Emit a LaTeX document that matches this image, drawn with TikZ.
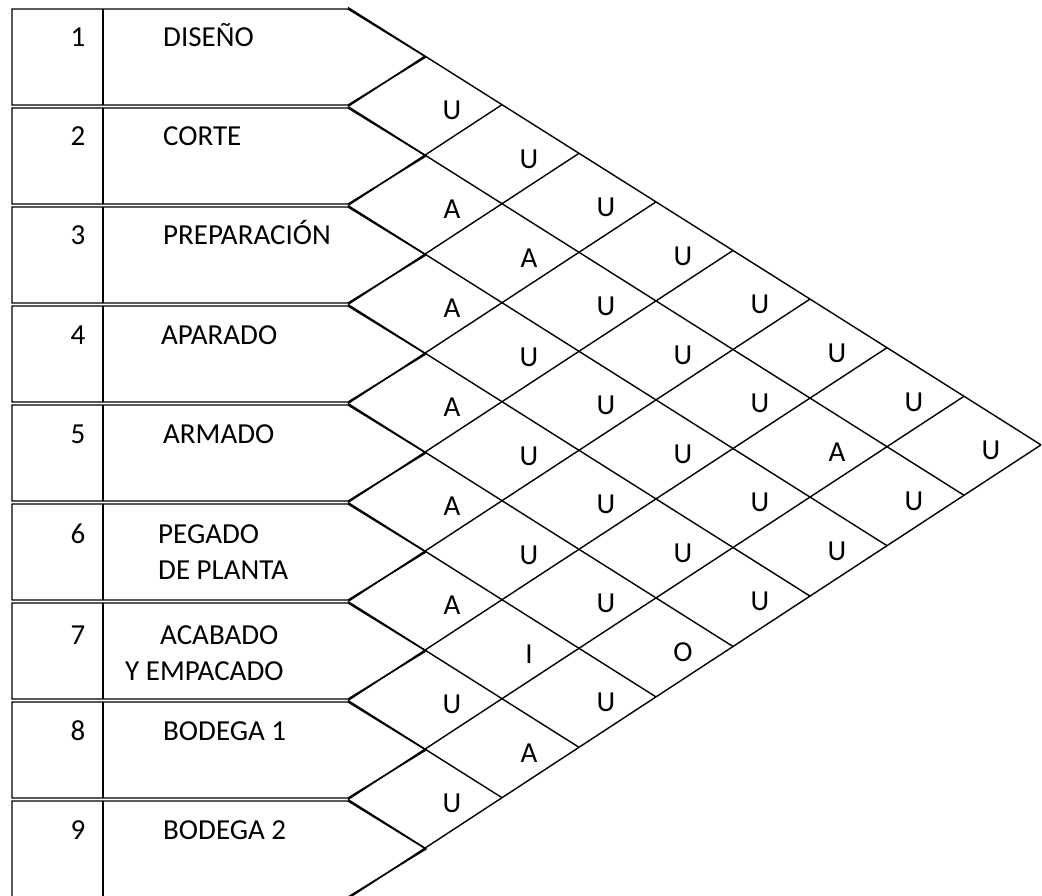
\documentclass[tikz,border=0pt]{standalone}
\usepackage{fontspec}
\setmainfont{Carlito}
\usepackage{tikz}
\tikzset{
  rowbox/.style={draw=black, line width=1.4pt, line join=miter},
  gridline/.style={draw=black, line width=1.4pt},
  numtext/.style={font=\fontsize{29}{36}\selectfont, anchor=base, inner sep=0pt},
  nametext/.style={font=\fontsize{29}{36}\selectfont, anchor=base west, align=left, inner sep=0pt},
  reltext/.style={font=\fontsize{29}{36}\selectfont, inner sep=0pt},
}

\begin{document}
\begin{tikzpicture}[x=1pt, y=-1pt]
  \useasboundingbox (0,0) rectangle (1042,896);
  \clip (0,0) rectangle (1042,896);
  % department boxes
  \foreach \n/\name/\nx/\ny/\nb [count=\i from 0] in {
      1/DISEÑO/163/38/38,
      2/CORTE/163/38/38,
      3/PREPARACIÓN/163/38/38,
      4/APARADO/161/38/38,
      5/ARMADO/163/38/38,
      6/{PEGADO\\DE PLANTA}/158/75/39,
      7/{\hspace*{35pt}ACABADO\\Y EMPACADO}/125/77/41,
      8/BODEGA 1/163/38/38,
      9/BODEGA 2/163/38/38} {
    \pgfmathsetmacro\ytop{9+99*\i}
    \draw[rowbox] (12,\ytop) -- (348,\ytop) -- (426,\ytop+48) -- (348,\ytop+96) -- (12,\ytop+96) -- cycle;
    \draw[rowbox] (103,\ytop) -- (103,\ytop+96);
    \node[numtext] (n\n) at (78,\ytop+\nb) {\n};
    \node[nametext] (d\n) at (\nx,\ytop+\ny) {\name};
  }
  % relationship grid
  \begin{scope}[shift={(348,0)}, yslant=0.0117]
    \foreach \k in {0,...,8}
      \draw[gridline] (0,{7.5+99*\k}) -- ({77*(9-\k)},{7.5+99*\k+49.5*(9-\k)});
    \foreach \k in {1,...,9}
      \draw[gridline] (0,{7.5+99*\k}) -- ({77*\k},{7.5+99*\k-49.5*\k});
    \foreach \i/\j/\r in {
        1/2/U, 2/3/A, 3/4/A, 4/5/A, 5/6/A, 6/7/A, 7/8/U, 8/9/U,
        1/3/U, 2/4/A, 3/5/U, 4/6/U, 5/7/U, 6/8/I, 7/9/A,
        1/4/U, 2/5/U, 3/6/U, 4/7/U, 5/8/U, 6/9/U,
        1/5/U, 2/6/U, 3/7/U, 4/8/U, 5/9/O,
        1/6/U, 2/7/U, 3/8/U, 4/9/U,
        1/7/U, 2/8/A, 3/9/U,
        1/8/U, 2/9/U,
        1/9/U}
      \node[reltext] (r\i\j) at ({77*(\j-\i)+27},{7.5+49.5*(\i+\j-1)+5}) {\r};
  \end{scope}
\end{tikzpicture}
\end{document}
